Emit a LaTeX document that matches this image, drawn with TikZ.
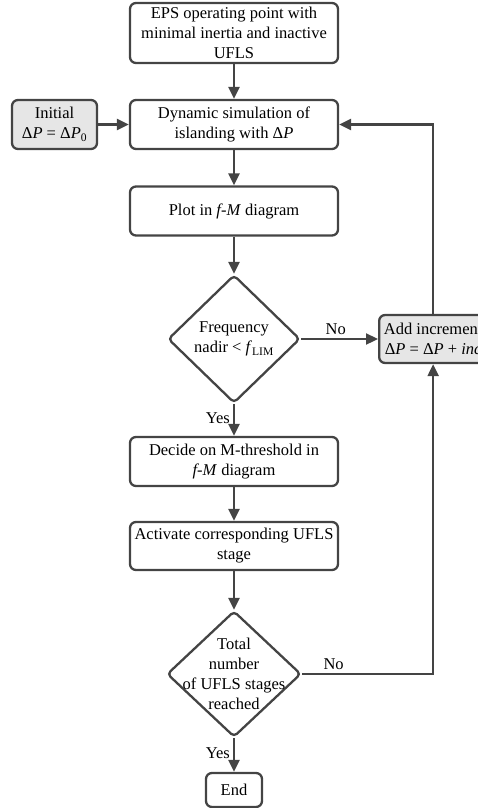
\documentclass[tikz,border=0pt]{standalone}
\usepackage{fontspec}
\setmainfont{Liberation Serif}
\usetikzlibrary{shapes.geometric,arrows.meta,positioning}

\definecolor{linegray}{HTML}{444444}
\definecolor{boxgray}{HTML}{E6E6E6}

\tikzset{
	process/.style={draw=linegray, line width=2.3pt, rounded corners=6pt, align=center,
		minimum width=208pt, minimum height=49pt, inner sep=2pt, font=\fontsize{16.5}{20}\selectfont},
	greybox/.style={process, fill=boxgray},
	decision/.style={draw=linegray, line width=2.3pt, diamond, rounded corners=4pt, inner sep=0pt},
	inside/.style={align=center, inner sep=0pt, font=\fontsize{16.5}{20}\selectfont},
	flow/.style={draw=linegray, line width=2.3pt, -{Triangle[length=12pt,width=11pt]}},
	answer/.style={font=\fontsize{16.5}{20}\selectfont, inner sep=3pt}
}

\begin{document}
\begin{tikzpicture}[x=1pt,y=-1pt]
		\useasboundingbox (0,0) rectangle (478,808);
		\clip (0,0) rectangle (478,808);

		% Draw boxes of the main column.
		\node[process, minimum height=60pt] (eps) at (234,33) {EPS operating point with\\minimal inertia and inactive\\UFLS};
		\node[process] (sim) at (234,124.5) {Dynamic simulation of\\islanding with Δ\textit{P}};
		\node[process] (plot) at (234,211) {Plot in \textit{f-M} diagram};
		\node[decision, minimum width=132pt, minimum height=128pt] (nadir) at (234,339) {};
		\node[inside] (nadirtext) at (nadir.center) {Frequency\\nadir < \textit{f}\textsubscript{LIM}};
		\node[process] (decide) at (234,461.5) {Decide on M-threshold in\\\textit{f-M} diagram};
		\node[process, minimum height=48pt] (activate) at (234,546) {Activate corresponding UFLS\\stage};
		\node[decision, minimum width=134pt, minimum height=126pt] (total) at (234,674) {};
		\node[inside] (totaltext) at (total.center) {Total\\number\\of UFLS stages\\reached};
		\node[process, minimum width=56pt, minimum height=34pt] (end) at (234,790) {End};

		% Draw side boxes.
		\node[greybox, minimum width=85pt] (init) at (54.5,124.5) {Initial\\Δ\textit{P} = Δ\textit{P}\textsubscript{0}};
		\node[greybox, minimum width=108pt, minimum height=48pt, anchor=west] (add) at (378,339) {Add increment\\Δ\textit{P} = Δ\textit{P} + \textit{inc}};

		% Connect the main column.
		\draw[flow] (eps) -- (sim);
		\draw[flow] (sim) -- (plot);
		\draw[flow] (plot) -- (nadir);
		\draw[flow] (nadir) -- node[answer, left, pos=0.45] {Yes} (decide);
		\draw[flow] (decide) -- (activate);
		\draw[flow] (activate) -- (total);
		\draw[flow] (total) -- node[answer, left, pos=0.45] {Yes} (end);

		% Connect the loop.
		\draw[flow] (init) -- (sim);
		\draw[flow] (nadir.east) -- node[answer, above, pos=0.45] {No} (add);
		\draw[flow] (total.east) -| node[answer, above, pos=0.12] {No} (add.south);
		\draw[flow] (add.north) |- (sim.east);
	\end{tikzpicture}
\end{document}
